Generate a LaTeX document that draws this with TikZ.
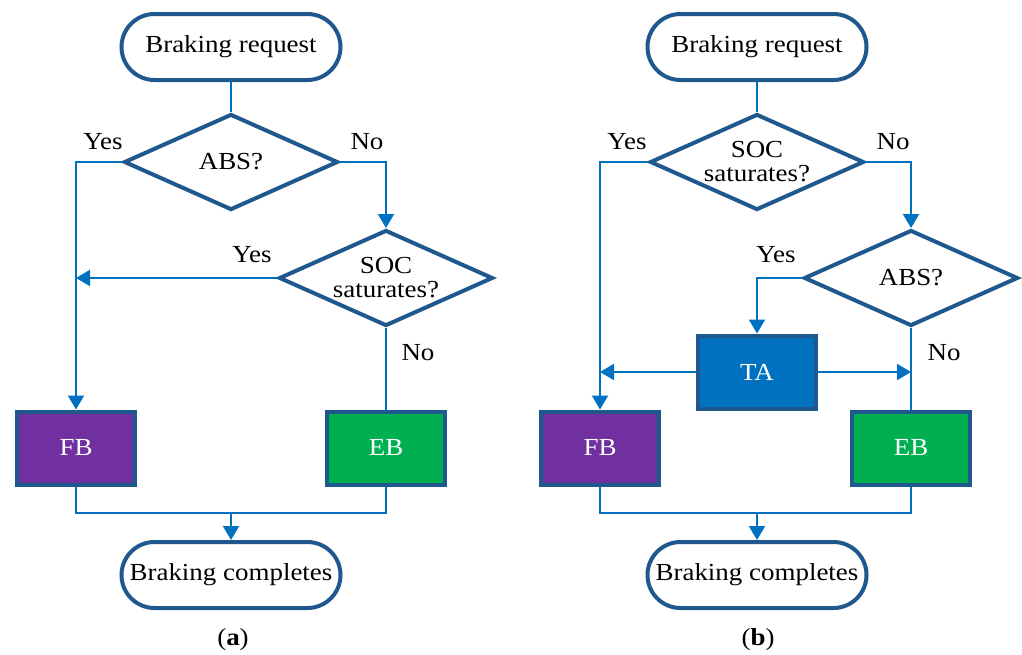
\documentclass[tikz,border=0pt]{standalone}
\usepackage{fontspec}
\setmainfont{Liberation Serif}[FakeStretch=1.1]
\usetikzlibrary{shapes.geometric,arrows.meta}
\definecolor{bordc}{RGB}{31,88,140}
\definecolor{connc}{RGB}{0,112,192}
\definecolor{fbc}{RGB}{112,48,160}
\definecolor{ebc}{RGB}{0,176,80}
\definecolor{tac}{RGB}{0,112,192}
\tikzset{
  txt/.style={font=\fontsize{24.5}{24}\selectfont},
  term/.style={txt,draw=bordc,line width=4pt,rounded corners=33pt,minimum width=219pt,minimum height=66pt,inner sep=0pt},
  dia/.style={txt,diamond,draw=bordc,line width=4pt,aspect=2.2,minimum width=214pt,minimum height=96pt,inner sep=0pt,align=center},
  boxn/.style={txt,draw=bordc,line width=4pt,minimum width=118pt,minimum height=73pt,text=white,inner sep=0pt},
  conn/.style={draw=connc,line width=2pt},
  arr/.style={conn,-{Triangle[width=16pt,length=14pt]}},
  lbl/.style={txt,inner sep=0pt},
}
\begin{document}
\begin{tikzpicture}[x=1pt,y=-1pt]
\useasboundingbox (0,0) rectangle (1022,654);
% ---------- (a) ----------
\node[term] (reqa) at (231,47) {Braking request};
\node[dia] (absa) at (231,162) {ABS?};
\node[dia] (soca) at (386,278) {SOC\\saturates?};
\node[boxn,fill=fbc] (fba) at (76,448) {FB};
\node[boxn,fill=ebc] (eba) at (386,448) {EB};
\node[term] (donea) at (231,575) {Braking completes};
\coordinate (ma) at (231,513);
\node[lbl] (ya1) at (103,142) {Yes};
\node[lbl] (na1) at (367,142) {No};
\node[lbl] (ya2) at (252,255) {Yes};
\node[lbl] (na2) at (418,353) {No};
\node[lbl] (capa) at (233,640) {(\textbf{a})};
\draw[conn] (reqa.south) -- (absa.north);
\draw[arr] (absa.west) -| (fba.north);
\draw[arr] (absa.east) -| (soca.north);
\draw[arr] (soca.west) -- (soca.west -| fba.north);
\draw[conn] (soca.south) -- (eba.north);
\draw[conn] (fba.south) |- (ma) -| (eba.south);
\draw[arr] (ma) -- (donea.north);
% ---------- (b) ----------
\node[term] (reqb) at (757,47) {Braking request};
\node[dia] (socb) at (757,162) {SOC\\saturates?};
\node[dia] (absb) at (911,278) {ABS?};
\node[boxn,fill=tac] (tab) at (757,372) {TA};
\node[boxn,fill=fbc] (fbb) at (600,448) {FB};
\node[boxn,fill=ebc] (ebb) at (911,448) {EB};
\node[term] (doneb) at (757,575) {Braking completes};
\coordinate (mb) at (757,513);
\node[lbl] (yb1) at (627,142) {Yes};
\node[lbl] (nb1) at (893,142) {No};
\node[lbl] (yb2) at (776,255) {Yes};
\node[lbl] (nb2) at (944,353) {No};
\node[lbl] (capb) at (758,640) {(\textbf{b})};
\draw[conn] (reqb.south) -- (socb.north);
\draw[arr] (socb.west) -| (fbb.north);
\draw[arr] (socb.east) -| (absb.north);
\draw[arr] (absb.west) -| (tab.north);
\draw[arr] (tab.west) -- (tab.west -| fbb.north);
\draw[arr] (tab.east) -- (tab.east -| ebb.north);
\draw[conn] (absb.south) -- (ebb.north);
\draw[conn] (fbb.south) |- (mb) -| (ebb.south);
\draw[arr] (mb) -- (doneb.north);
\end{tikzpicture}
\end{document}
